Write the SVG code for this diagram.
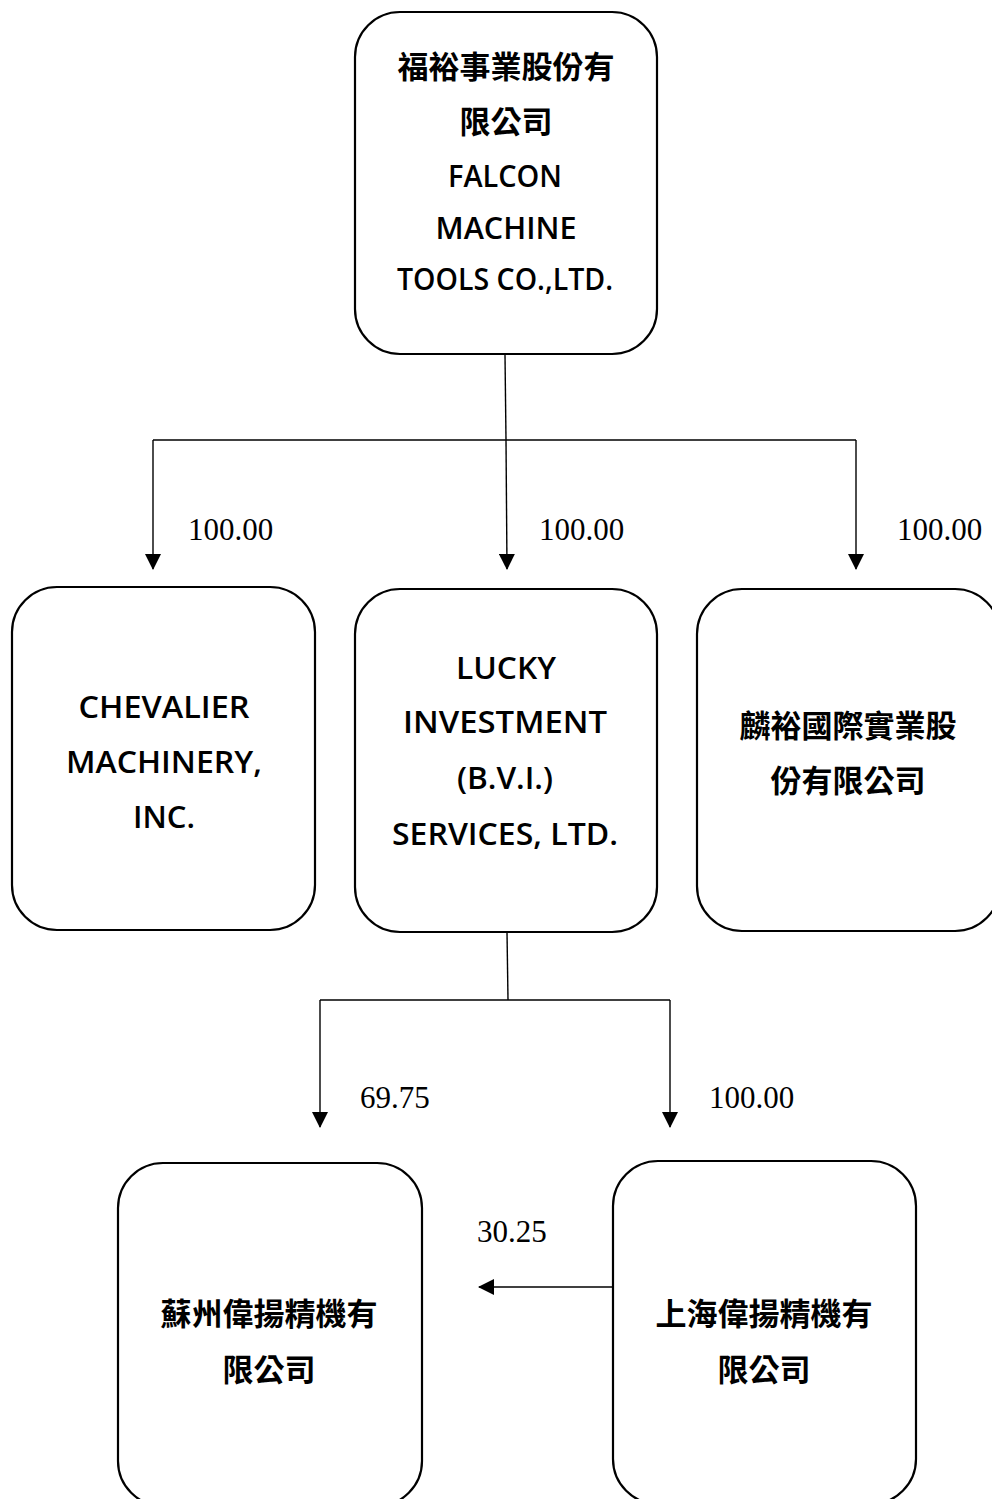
<svg xmlns="http://www.w3.org/2000/svg" width="992" height="1499" viewBox="0 0 992 1499">
<style>
.box{fill:#fff;stroke:#000;stroke-width:2.2}
.t{font-family:"Open Sans","Noto Sans CJK TC",sans-serif;font-weight:600;font-size:30px;fill:#000;text-anchor:middle}
.c{font-family:"Noto Sans CJK TC","Open Sans",sans-serif;font-weight:600;font-size:31px;fill:#000;text-anchor:middle}
.lbl{font-family:"Liberation Serif","Times New Roman",serif;font-size:31px;fill:#000}
.ln{fill:none;stroke:#000;stroke-width:1.4}
</style>
<defs>
<marker id="ah" markerWidth="16" markerHeight="16" viewBox="0 0 16 16" refX="15" refY="8" orient="auto" markerUnits="userSpaceOnUse">
<path d="M0,0 L16,8 L0,16 Z" fill="#000"/>
</marker>
</defs>
<rect width="992" height="1499" fill="#fff"/>
<g id="connectors">
<line class="ln" x1="505" y1="355" x2="506" y2="440"/>
<line class="ln" x1="153" y1="440" x2="856" y2="440"/>
<line class="ln" x1="153" y1="440" x2="153" y2="569" marker-end="url(#ah)"/>
<line class="ln" x1="506" y1="440" x2="507" y2="569" marker-end="url(#ah)"/>
<line class="ln" x1="856" y1="440" x2="856" y2="569" marker-end="url(#ah)"/>
<line class="ln" x1="507" y1="932" x2="508" y2="1000"/>
<line class="ln" x1="320" y1="1000" x2="670" y2="1000"/>
<line class="ln" x1="320" y1="1000" x2="320" y2="1127" marker-end="url(#ah)"/>
<line class="ln" x1="670" y1="1000" x2="670" y2="1127" marker-end="url(#ah)"/>
<line class="ln" x1="613" y1="1287" x2="479" y2="1287" marker-end="url(#ah)"/>
<text class="lbl" x="188" y="540">100.00</text>
<text class="lbl" x="539" y="540">100.00</text>
<text class="lbl" x="897" y="540">100.00</text>
<text class="lbl" x="360" y="1108">69.75</text>
<text class="lbl" x="709" y="1108">100.00</text>
<text class="lbl" x="477" y="1242">30.25</text>
</g>
<g id="falcon">
<rect class="box" x="355" y="12" width="302" height="342" rx="45"/>
<text class="c" x="506" y="78">福裕事業股份有</text>
<text class="c" x="506" y="133">限公司</text>
<text class="t" x="505" y="187" textLength="114" lengthAdjust="spacingAndGlyphs">FALCON</text>
<text class="t" x="506" y="239" textLength="141" lengthAdjust="spacingAndGlyphs">MACHINE</text>
<text class="t" x="505" y="290" textLength="216" lengthAdjust="spacingAndGlyphs">TOOLS CO.,LTD.</text>
</g>
<g id="chevalier">
<rect class="box" x="12" y="587" width="303" height="343" rx="45"/>
<text class="t" x="164" y="718" textLength="171" lengthAdjust="spacingAndGlyphs">CHEVALIER</text>
<text class="t" x="164" y="773" textLength="196" lengthAdjust="spacingAndGlyphs">MACHINERY,</text>
<text class="t" x="164" y="828" textLength="62" lengthAdjust="spacingAndGlyphs">INC.</text>
</g>
<g id="lucky">
<rect class="box" x="355" y="589" width="302" height="343" rx="45"/>
<text class="t" x="506" y="679" textLength="100" lengthAdjust="spacingAndGlyphs">LUCKY</text>
<text class="t" x="505" y="733" textLength="204" lengthAdjust="spacingAndGlyphs">INVESTMENT</text>
<text class="t" x="505" y="789" textLength="96" lengthAdjust="spacingAndGlyphs">(B.V.I.)</text>
<text class="t" x="505" y="845" textLength="226" lengthAdjust="spacingAndGlyphs">SERVICES, LTD.</text>
</g>
<g id="linyu">
<rect class="box" x="697" y="589" width="303" height="342" rx="45"/>
<text class="c" x="848" y="737">麟裕國際實業股</text>
<text class="c" x="848" y="792">份有限公司</text>
</g>
<g id="suzhou">
<rect class="box" x="118" y="1163" width="304" height="343" rx="45"/>
<text class="c" x="269" y="1325">蘇州偉揚精機有</text>
<text class="c" x="269" y="1381">限公司</text>
</g>
<g id="shanghai">
<rect class="box" x="613" y="1161" width="303" height="343" rx="45"/>
<text class="c" x="764" y="1325">上海偉揚精機有</text>
<text class="c" x="764" y="1381">限公司</text>
</g>
</svg>
